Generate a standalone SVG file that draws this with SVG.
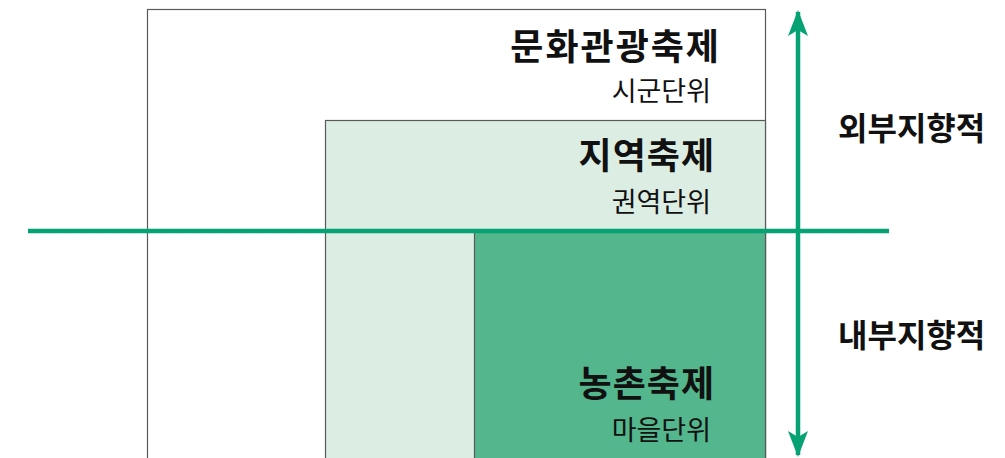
<svg xmlns="http://www.w3.org/2000/svg" width="1005" height="458" viewBox="0 0 1005 458">
<style>
.box{stroke:#5a5a5a;stroke-width:1.2}
.t{font-family:"Noto Sans CJK KR","Noto Sans",sans-serif;fill:#111;text-anchor:end}
.b{font-weight:700;font-size:36px;letter-spacing:1px}
.s{font-weight:400;font-size:27px}
.side{font-family:"Noto Sans CJK KR","Noto Sans",sans-serif;font-weight:700;font-size:32px;fill:#111}
.ln{stroke:#07a273;stroke-width:4.5;fill:none}
</style>
<defs>
<marker id="ah" viewBox="0 0 26 20" refX="24" refY="10" markerWidth="26" markerHeight="20" markerUnits="userSpaceOnUse" orient="auto-start-reverse">
<path d="M26 10 L0 0 L6 10 L0 20 Z" fill="#07a273"/>
</marker>
</defs>
<g id="node-culture">
<rect class="box" x="147.5" y="9.5" width="618" height="460" fill="#fff"/>
<text class="t b" x="721" y="60" style="letter-spacing:2px">문화관광축제</text>
<text class="t s" x="711" y="101">시군단위</text>
</g>
<g id="node-region">
<rect class="box" x="325.5" y="120.5" width="440" height="350" fill="#dcede3"/>
<text class="t b" x="715" y="169">지역축제</text>
<text class="t s" x="711" y="212">권역단위</text>
</g>
<g id="node-rural">
<rect class="box" x="474.5" y="231" width="291" height="240" fill="#53b68d"/>
<text class="t b" x="715" y="397">농촌축제</text>
<text class="t s" x="711" y="440">마을단위</text>
</g>
<g id="connectors">
<line class="ln" x1="798" y1="12" x2="798" y2="455" marker-start="url(#ah)" marker-end="url(#ah)"/>
<line class="ln" x1="28" y1="231" x2="889" y2="231"/>
</g>
<g id="labels">
<text class="side" x="838" y="140">외부지향적</text>
<text class="side" x="838" y="347">내부지향적</text>
</g>
</svg>
